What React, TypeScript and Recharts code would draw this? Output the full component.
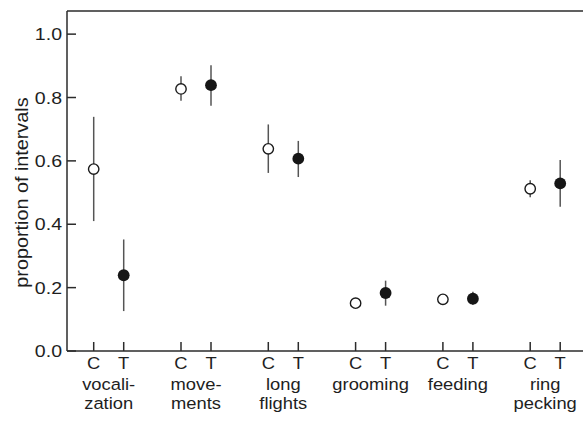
import React from 'react';
import { ScatterChart, Scatter, XAxis, YAxis, ErrorBar, ReferenceLine } from 'recharts';

const behaviors: string[][] = [
  ['vocali-', 'zation'],
  ['move-', 'ments'],
  ['long', 'flights'],
  ['grooming'],
  ['feeding'],
  ['ring', 'pecking'],
];
const cPos = [0, 2.91, 5.82, 8.73, 11.64, 14.55];
const tPos = [1, 3.91, 6.82, 9.73, 12.64, 15.55];

const cMean = [0.574, 0.827, 0.638, 0.151, 0.163, 0.512];
const cLow = [0.41, 0.79, 0.562, 0.141, 0.153, 0.485];
const cHigh = [0.739, 0.867, 0.715, 0.161, 0.173, 0.539];

const tMean = [0.239, 0.839, 0.607, 0.183, 0.165, 0.529];
const tLow = [0.126, 0.774, 0.549, 0.143, 0.145, 0.455];
const tHigh = [0.352, 0.902, 0.663, 0.222, 0.187, 0.603];

const yTicks = [0, 0.2, 0.4, 0.6, 0.8, 1.0];
const Y_MAX = 1.073;
const X_DOMAIN: [number, number] = [-0.89, 16.31];

const controlData = cPos.map((x, i) => ({ x, y: cMean[i], err: [cMean[i] - cLow[i], cHigh[i] - cMean[i]] }));
const treatData = tPos.map((x, i) => ({ x, y: tMean[i], err: [tMean[i] - tLow[i], tHigh[i] - tMean[i]] }));

const groupMid = cPos.map((c, i) => (c + tPos[i]) / 2);
const xTicks = [...cPos, ...tPos, ...groupMid].sort((a, b) => a - b);

const AXIS = '#2b2b2b';
const TEXT = '#1e1e1e';
const FONT_FAMILY = '"Liberation Sans", Arial, sans-serif';

const XTick = (props: any) => {
  const { x, y, payload } = props;
  const v = payload.value;
  const ci = cPos.indexOf(v);
  const ti = tPos.indexOf(v);
  const gi = groupMid.indexOf(v);
  if (ci >= 0 || ti >= 0) {
    return (
      <g>
        <line x1={x} x2={x} y1={y} y2={y - 9} stroke={AXIS} strokeWidth={1.5} />
        <text
          transform={`translate(${x},${y + 18}) scale(1.08,1)`}
          textAnchor="middle"
          fill={TEXT}
          fontSize={17}
          fontFamily={FONT_FAMILY}
        >
          {ci >= 0 ? 'C' : 'T'}
        </text>
      </g>
    );
  }
  if (gi >= 0) {
    const lines = behaviors[gi];
    return (
      <g>
        {lines.map((l, i) => (
          <text
            key={i}
            transform={`translate(${x},${y + 39 + i * 19}) scale(1.08,1)`}
            textAnchor="middle"
            fill={TEXT}
            fontSize={17}
            fontFamily={FONT_FAMILY}
          >
            {l}
          </text>
        ))}
      </g>
    );
  }
  return null;
};

const YTick = (props: any) => {
  const { x, y, payload } = props;
  return (
    <g>
      <line x1={x} x2={x + 9} y1={y} y2={y} stroke={AXIS} strokeWidth={1.5} />
      <text
        transform={`translate(${x - 5},${y + 6}) scale(1.15,1)`}
        textAnchor="end"
        fill={TEXT}
        fontSize={17}
        fontFamily={FONT_FAMILY}
      >
        {Number(payload.value).toFixed(1)}
      </text>
    </g>
  );
};

const OpenDot = (props: any) => (
  <circle cx={props.cx} cy={props.cy} r={5.2} fill="#ffffff" stroke="#1a1a1a" strokeWidth={1.4} />
);
const FilledDot = (props: any) => (
  <circle cx={props.cx} cy={props.cy} r={5.9} fill="#161616" stroke="none" />
);

const YLabel = (props: any) => {
  const vb = props.viewBox || { x: 0, y: 11, width: 67, height: 340 };
  const cy = vb.y + vb.height * (1 - 0.5 / Y_MAX);
  return (
    <text
      transform={`translate(28,${cy}) rotate(-90) scale(1.1,1)`}
      textAnchor="middle"
      fill={TEXT}
      fontSize={18}
      fontFamily={FONT_FAMILY}
    >
      proportion of intervals
    </text>
  );
};

export default function App() {
  return (
    <div style={{ position: 'absolute', left: 0, top: 0, fontFamily: FONT_FAMILY }}>
      <ScatterChart width={583} height={421} margin={{ top: 11, right: 0, bottom: 0, left: 0 }}>
        <XAxis
          type="number"
          dataKey="x"
          domain={X_DOMAIN}
          ticks={xTicks}
          interval={0}
          height={70}
          tickSize={0}
          tickMargin={0}
          axisLine={{ stroke: AXIS, strokeWidth: 1.5 }}
          tickLine={false}
          tick={<XTick />}
          allowDataOverflow
        />
        <YAxis
          type="number"
          dataKey="y"
          domain={[0, Y_MAX]}
          ticks={yTicks}
          interval={0}
          width={67}
          tickSize={0}
          tickMargin={0}
          axisLine={{ stroke: AXIS, strokeWidth: 1.5 }}
          tickLine={false}
          tick={<YTick />}
          label={<YLabel />}
          allowDataOverflow
        />
        <ReferenceLine y={Y_MAX} stroke={AXIS} strokeWidth={1.5} />
        <Scatter data={controlData} shape={<OpenDot />} isAnimationActive={false}>
          <ErrorBar dataKey="err" direction="y" width={0} stroke="#555" strokeWidth={1.5} isAnimationActive={false} />
        </Scatter>
        <Scatter data={treatData} shape={<FilledDot />} isAnimationActive={false}>
          <ErrorBar dataKey="err" direction="y" width={0} stroke="#555" strokeWidth={1.5} isAnimationActive={false} />
        </Scatter>
      </ScatterChart>
    </div>
  );
}
